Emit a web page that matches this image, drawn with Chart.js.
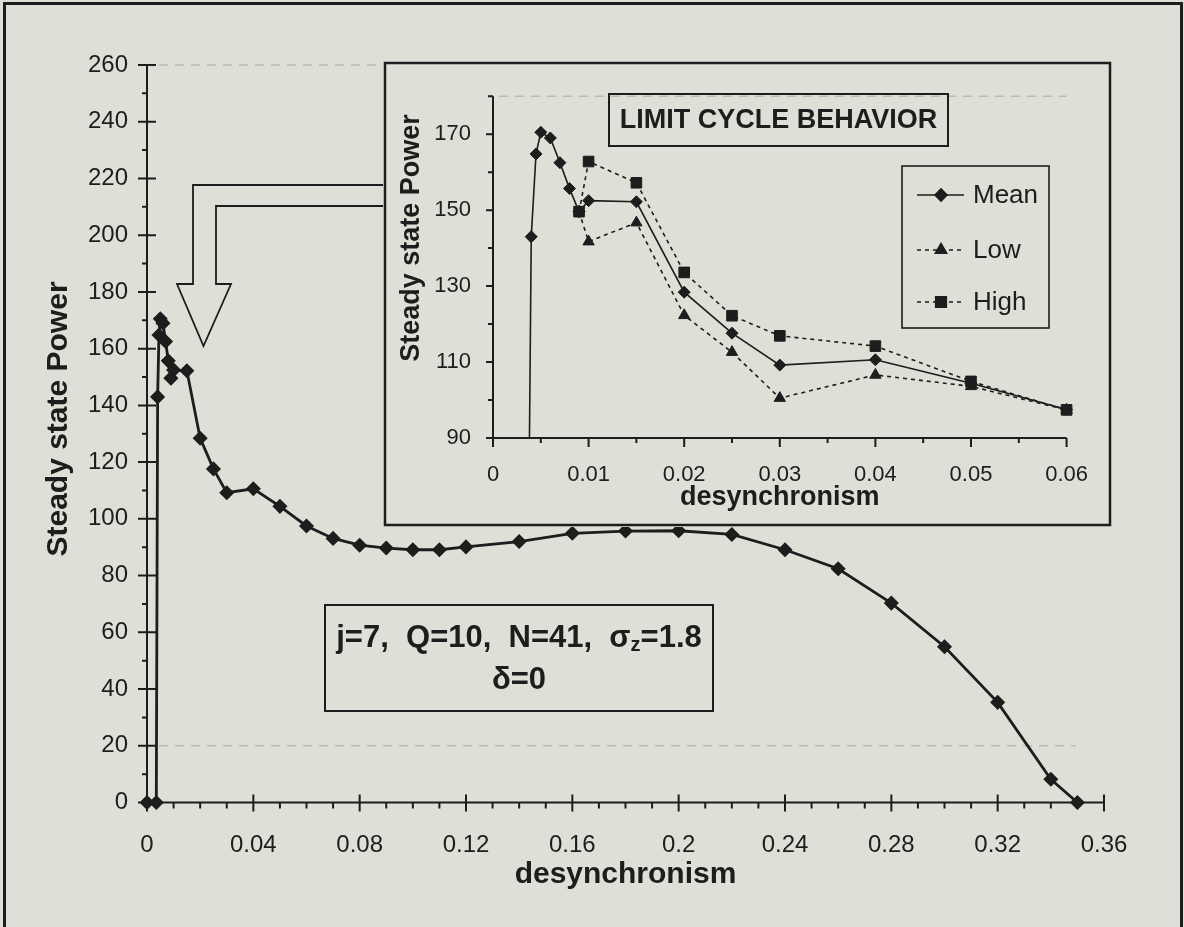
<!DOCTYPE html>
<html lang="en">
<head>
  <meta charset="UTF-8">
  <title>Steady state Power vs desynchronism</title>
  <script src="https://cdn.jsdelivr.net/npm/chart.js"></script>
  <style>
    html, body {
      margin: 0;
      padding: 0;
      background: #dedfd7;
    }
    .page {
      position: relative;
      width: 1184px;
      height: 927px;
      overflow: hidden;
    }
    .frame {
      position: absolute;
      left: 3px;
      top: 2px;
      width: 1174px;
      height: 940px;
      border: 3px solid #1e1c1c;
    }
    #mainChart, #insetChart {
      position: absolute;
    }
    #mainChart { left: 0; top: 0; }
    #insetChart { left: 383px; top: 61px; }
  </style>
</head>
<body>
  <div class="page">
    <div class="frame"></div>
    <canvas id="mainChart" width="1184" height="927"></canvas>
    <canvas id="insetChart" width="729" height="466"></canvas>
  </div>
  <script>
    // mean steady state power over the whole sweep
    const meanDesync = [0, 0.0035, 0.004, 0.0045, 0.005, 0.006, 0.007, 0.008, 0.009, 0.01, 0.015, 0.02, 0.025, 0.03, 0.04, 0.05, 0.06,
      0.07, 0.08, 0.09, 0.1, 0.11, 0.12, 0.14, 0.16, 0.18, 0.2, 0.22, 0.24, 0.26, 0.28, 0.3, 0.32, 0.34, 0.35]
    const meanPower = [0, 0, 143, 164.8, 170.5, 169, 162.5, 155.7, 149.6, 152.5, 152.2, 128.4, 117.6, 109.2, 110.6, 104.4, 97.5,
      93.1, 90.7, 89.7, 89.1, 89.1, 90.1, 92.0, 94.9, 95.7, 95.8, 94.5, 89.1, 82.4, 70.3, 54.9, 35.3, 8.2, 0]

    // limit cycle envelope
    const cycleDesync = [0.009, 0.01, 0.015, 0.02, 0.025, 0.03, 0.04, 0.05, 0.06]
    const lowPower = [149.6, 141.7, 146.7, 122.3, 112.6, 100.5, 106.6, 103.6, 97.4]
    const highPower = [149.6, 162.8, 157.2, 133.6, 122.2, 116.9, 114.2, 104.9, 97.4]

    const mainXTicks = [0, 0.04, 0.08, 0.12, 0.16, 0.2, 0.24, 0.28, 0.32, 0.36]
    const mainXLabels = ['0', '0.04', '0.08', '0.12', '0.16', '0.2', '0.24', '0.28', '0.32', '0.36']
    const mainYTicks = [0, 20, 40, 60, 80, 100, 120, 140, 160, 180, 200, 220, 240, 260]
    const insetXTicks = [0, 0.01, 0.02, 0.03, 0.04, 0.05, 0.06]
    const insetXLabels = ['0', '0.01', '0.02', '0.03', '0.04', '0.05', '0.06']
    const insetYTicks = [90, 110, 130, 150, 170]

    const ink = '#1e1c1c'
    const paper = '#dedfd7'
    const faint = 'rgba(110, 110, 105, 0.3)'
    const family = "'Liberation Sans', Arial, Helvetica, sans-serif"

    function pairs(xs, ys) {
      return xs.map((x, i) => ({ x: x, y: ys[i] }))
    }

    function useTicks(values) {
      return scale => { scale.ticks = values.map(v => ({ value: v })) }
    }

    function marker(ctx, style, radius, x, y) {
      ctx.fillStyle = ink
      ctx.strokeStyle = ink
      if (Chart.helpers && Chart.helpers.drawPoint) {
        Chart.helpers.drawPoint(ctx, { pointStyle: style, radius: radius, rotation: 0, borderWidth: 1 }, x, y)
      } else {
        ctx.beginPath()
        ctx.arc(x, y, radius, 0, Math.PI * 2)
        ctx.fill()
      }
    }

    function verticalText(ctx, text, x, y, font) {
      ctx.save()
      ctx.translate(x, y)
      ctx.rotate(-Math.PI / 2)
      ctx.font = font
      ctx.fillStyle = ink
      ctx.textAlign = 'center'
      ctx.textBaseline = 'middle'
      ctx.fillText(text, 0, 0)
      ctx.restore()
    }

    // axes, tick marks, arrow and parameter box of the full sweep
    const mainDecor = {
      id: 'mainDecor',
      beforeDatasetsDraw(chart) {
        const { ctx, chartArea: a, scales: { x, y } } = chart
        ctx.save()
        ctx.strokeStyle = faint
        ctx.lineWidth = 1.5
        ctx.setLineDash([9, 7]);
        [260, 20].forEach(v => {
          const py = y.getPixelForValue(v)
          ctx.beginPath()
          ctx.moveTo(a.left + 12, py)
          ctx.lineTo(a.right - 28, py)
          ctx.stroke()
        })
        ctx.setLineDash([])

        ctx.strokeStyle = ink
        ctx.lineWidth = 2
        ctx.beginPath()
        ctx.moveTo(a.left, a.top)
        ctx.lineTo(a.left, a.bottom)
        ctx.lineTo(a.right, a.bottom)
        for (let v = 0; v <= 260; v += 10) {
          const py = y.getPixelForValue(v)
          if (v % 20 === 0) {
            ctx.moveTo(a.left - 9, py)
            ctx.lineTo(a.left + 9, py)
          } else {
            ctx.moveTo(a.left - 5, py)
            ctx.lineTo(a.left, py)
          }
        }
        for (let i = 0; i <= 36; i++) {
          const px = x.getPixelForValue(i / 100)
          if (i % 4 === 0) {
            ctx.moveTo(px, a.bottom - 8)
            ctx.lineTo(px, a.bottom + 9)
          } else {
            ctx.moveTo(px, a.bottom)
            ctx.lineTo(px, a.bottom + 6)
          }
        }
        ctx.stroke()
        ctx.restore()
      },
      afterDraw(chart) {
        const { ctx } = chart
        ctx.save()

        // hollow arrow pointing from the inset down to the peak
        const arrow = [[386, 185], [193, 185], [193, 284], [177, 284], [203.5, 346],
          [231, 284], [216, 284], [216, 206], [386, 206]]
        ctx.strokeStyle = ink
        ctx.lineWidth = 1.8
        ctx.beginPath()
        arrow.forEach((p, i) => i ? ctx.lineTo(p[0], p[1]) : ctx.moveTo(p[0], p[1]))
        ctx.stroke()

        // parameter box
        const box = { left: 325, top: 605, width: 388, height: 106 }
        ctx.lineWidth = 2
        ctx.strokeRect(box.left, box.top, box.width, box.height)
        const cx = box.left + box.width / 2
        const big = 'bold 31px ' + family
        const small = 'bold 20px ' + family
        const parts = [['j=7,  Q=10,  N=41,  \u03c3', big, 0], ['z', small, 7], ['=1.8', big, 0]]
        let total = 0
        parts.forEach(p => { ctx.font = p[1]; total += ctx.measureText(p[0]).width })
        let px = cx - total / 2
        ctx.fillStyle = ink
        ctx.textBaseline = 'middle'
        ctx.textAlign = 'left'
        parts.forEach(p => {
          ctx.font = p[1]
          ctx.fillText(p[0], px, 638 + p[2])
          px += ctx.measureText(p[0]).width
        })
        ctx.font = big
        ctx.textAlign = 'center'
        ctx.fillText('\u03b4=0', cx, 680)
        ctx.restore()

        verticalText(ctx, 'Steady state Power', 59, 419, 'bold 30px ' + family)
      }
    }

    // frame, axes, title box and legend of the limit cycle inset
    const insetDecor = {
      id: 'insetDecor',
      beforeDraw(chart) {
        const { ctx, width, height } = chart
        ctx.save()
        ctx.fillStyle = paper
        ctx.fillRect(0, 0, width, height)
        ctx.strokeStyle = ink
        ctx.lineWidth = 2.5
        ctx.strokeRect(2, 2, width - 4, height - 4)
        ctx.restore()
      },
      beforeDatasetsDraw(chart) {
        const { ctx, chartArea: a, scales: { x, y } } = chart
        ctx.save()
        ctx.strokeStyle = faint
        ctx.lineWidth = 1.5
        ctx.setLineDash([9, 7])
        ctx.beginPath()
        ctx.moveTo(a.left + 6, a.top)
        ctx.lineTo(a.right, a.top)
        ctx.stroke()
        ctx.setLineDash([])

        ctx.strokeStyle = ink
        ctx.lineWidth = 2
        ctx.beginPath()
        ctx.moveTo(a.left, a.top)
        ctx.lineTo(a.left, a.bottom)
        ctx.lineTo(a.right, a.bottom)
        for (let v = 90; v <= 180; v += 10) {
          const py = y.getPixelForValue(v)
          ctx.moveTo(a.left - ((v - 90) % 20 === 0 ? 7 : 5), py)
          ctx.lineTo(a.left, py)
        }
        for (let i = 0; i <= 12; i++) {
          const px = x.getPixelForValue(i * 0.005)
          ctx.moveTo(px, a.bottom)
          ctx.lineTo(px, a.bottom + (i % 2 === 0 ? 9 : 5))
        }
        ctx.stroke()
        ctx.restore()
      },
      afterDraw(chart) {
        const { ctx } = chart
        ctx.save()
        ctx.strokeStyle = ink
        ctx.fillStyle = ink

        // title box
        ctx.lineWidth = 2
        ctx.strokeRect(226, 33, 339, 52)
        ctx.font = 'bold 27px ' + family
        ctx.textAlign = 'center'
        ctx.textBaseline = 'middle'
        ctx.fillText('LIMIT CYCLE BEHAVIOR', 395.5, 60)

        // legend
        ctx.lineWidth = 1.6
        ctx.strokeRect(519, 105, 147, 162)
        const rows = [134, 189, 241]
        const order = ['Mean', 'Low', 'High']
        order.forEach((name, i) => {
          const ds = chart.data.datasets.find(d => d.label === name)
          const ry = rows[i]
          ctx.strokeStyle = ink
          ctx.lineWidth = ds.borderWidth
          ctx.setLineDash(ds.borderDash || [])
          ctx.beginPath()
          ctx.moveTo(534, ry)
          ctx.lineTo(581, ry)
          ctx.stroke()
          ctx.setLineDash([])
          marker(ctx, ds.pointStyle, ds.pointRadius, 558, ry)
          ctx.fillStyle = ink
          ctx.font = '26px ' + family
          ctx.textAlign = 'left'
          ctx.textBaseline = 'middle'
          ctx.fillText(name, 590, ry + 1)
        })
        ctx.restore()

        verticalText(ctx, 'Steady state Power', 29, 177, 'bold 27px ' + family)
      }
    }

    new Chart(document.getElementById('mainChart'), {
      type: 'line',
      data: {
        datasets: [{
          label: 'Mean',
          data: pairs(meanDesync, meanPower),
          borderColor: ink,
          backgroundColor: ink,
          borderWidth: 2.8,
          pointStyle: 'rectRot',
          pointRadius: 6.5,
          pointBorderWidth: 1.5,
          tension: 0,
          clip: false
        }]
      },
      options: {
        responsive: false,
        animation: false,
        events: [],
        layout: { padding: { left: 0, top: 65, right: 80, bottom: 0 } },
        plugins: { legend: { display: false }, tooltip: { enabled: false } },
        scales: {
          x: {
            type: 'linear',
            min: 0,
            max: 0.36,
            afterBuildTicks: useTicks(mainXTicks),
            afterFit: s => { s.height = 124.5 },
            grid: { display: false, drawTicks: false },
            border: { display: false },
            ticks: {
              padding: 28,
              color: ink,
              autoSkip: false,
              maxRotation: 0,
              font: { family: family, size: 24 },
              callback: (v, i) => mainXLabels[i]
            },
            title: {
              display: true,
              text: 'desynchronism',
              color: ink,
              font: { family: family, size: 30, weight: 'bold' },
              padding: { top: 0, bottom: 34 }
            }
          },
          y: {
            min: 0,
            max: 260,
            afterBuildTicks: useTicks(mainYTicks),
            afterFit: s => { s.width = 147 },
            grid: { display: false, drawTicks: false },
            border: { display: false },
            ticks: {
              padding: 19,
              color: ink,
              autoSkip: false,
              font: { family: family, size: 24 }
            }
          }
        }
      },
      plugins: [mainDecor]
    })

    const insetMean = pairs(meanDesync, meanPower).filter(p => p.x <= 0.06)

    new Chart(document.getElementById('insetChart'), {
      type: 'line',
      data: {
        datasets: [{
          label: 'Mean',
          data: insetMean,
          borderColor: ink,
          backgroundColor: ink,
          borderWidth: 1.6,
          pointStyle: 'rectRot',
          pointRadius: 6,
          pointBorderWidth: 1,
          tension: 0,
          order: 3,
          clip: { left: 0, top: 10, right: 10, bottom: 0 }
        }, {
          label: 'Low',
          data: pairs(cycleDesync, lowPower),
          borderColor: ink,
          backgroundColor: ink,
          borderWidth: 1.6,
          borderDash: [4, 4],
          pointStyle: 'triangle',
          pointRadius: 6.5,
          pointBorderWidth: 1,
          tension: 0,
          order: 2,
          clip: { left: 0, top: 10, right: 10, bottom: 0 }
        }, {
          label: 'High',
          data: pairs(cycleDesync, highPower),
          borderColor: ink,
          backgroundColor: ink,
          borderWidth: 1.6,
          borderDash: [4, 4],
          pointStyle: 'rect',
          pointRadius: 7.5,
          pointBorderWidth: 1,
          tension: 0,
          order: 1,
          clip: { left: 0, top: 10, right: 10, bottom: 0 }
        }]
      },
      options: {
        responsive: false,
        animation: false,
        events: [],
        layout: { padding: { left: 0, top: 27, right: 39, bottom: 0 } },
        plugins: { legend: { display: false }, tooltip: { enabled: false } },
        scales: {
          x: {
            type: 'linear',
            min: 0,
            max: 0.06,
            afterBuildTicks: useTicks(insetXTicks),
            afterFit: s => { s.height = 89 },
            grid: { display: false, drawTicks: false },
            border: { display: false },
            ticks: {
              padding: 24,
              color: ink,
              autoSkip: false,
              maxRotation: 0,
              font: { family: family, size: 22 },
              callback: (v, i) => insetXLabels[i]
            },
            title: {
              display: true,
              text: 'desynchronism',
              color: ink,
              font: { family: family, size: 27, weight: 'bold' },
              padding: { top: 0, bottom: 13 }
            }
          },
          y: {
            min: 90,
            max: 180,
            afterBuildTicks: useTicks(insetYTicks),
            afterFit: s => { s.width = 110 },
            grid: { display: false, drawTicks: false },
            border: { display: false },
            ticks: {
              padding: 22,
              color: ink,
              autoSkip: false,
              font: { family: family, size: 22 }
            }
          }
        }
      },
      plugins: [insetDecor]
    })
  </script>
</body>
</html>
